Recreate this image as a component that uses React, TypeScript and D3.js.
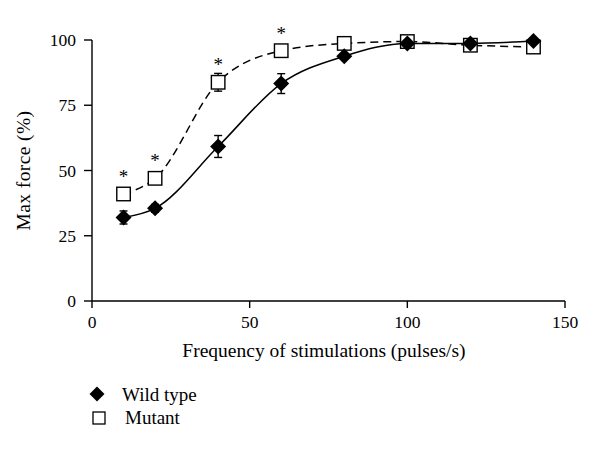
import React from "react";
import * as d3 from "d3";

const freqs = [10, 20, 40, 60, 80, 100, 120, 140];
const wildType = [32, 35.5, 59.2, 83.3, 93.8, 98.7, 98.7, 99.6];
const wildErr = [2.5, 1.5, 4.2, 3.8, 0.8, 0.8, 0.8, 0.5];
const mutant = [41, 47, 83.8, 95.9, 98.7, 99.4, 98, 97.3];
const mutantErr = [1, 1.5, 3.4, 0.8, 0.5, 0.5, 0.5, 0.5];
const starFreqs = [10, 20, 40, 60];
const xTicks = [0, 50, 100, 150];
const yTicks = [0, 25, 50, 75, 100];

const FONT = "'Liberation Serif', 'Times New Roman', serif";

export default function App() {
  const x = d3.scaleLinear().domain([0, 150]).range([92, 565]);
  const y = d3.scaleLinear().domain([0, 100]).range([301, 40]);
  const line = d3
    .line<number>()
    .x((_, i) => x(freqs[i]))
    .y((d) => y(d))
    .curve(d3.curveMonotoneX);

  const diamond = (cx: number, cy: number, r: number) =>
    `M${cx},${cy - r}L${cx + r},${cy}L${cx},${cy + r}L${cx - r},${cy}Z`;

  const errBar = (f: number, v: number, e: number, key: string) => (
    <g key={key} stroke="#000" strokeWidth={1.4}>
      <line x1={x(f)} x2={x(f)} y1={y(v - e)} y2={y(v + e)} />
      <line x1={x(f) - 4} x2={x(f) + 4} y1={y(v - e)} y2={y(v - e)} />
      <line x1={x(f) - 4} x2={x(f) + 4} y1={y(v + e)} y2={y(v + e)} />
    </g>
  );

  return (
    <svg width={600} height={452} style={{ position: "absolute", left: 0, top: 0, background: "#fff" }}>
      <rect width={600} height={452} fill="#fff" />
      {/* axes */}
      <line x1={x(0)} x2={x(150)} y1={y(0)} y2={y(0)} stroke="#000" strokeWidth={1.4} />
      <line x1={x(0)} x2={x(0)} y1={y(0)} y2={y(100)} stroke="#000" strokeWidth={1.4} />
      {xTicks.map((t) => (
        <g key={"xt" + t}>
          <line x1={x(t)} x2={x(t)} y1={y(0)} y2={y(0) + 7} stroke="#000" strokeWidth={1.4} />
          <text x={x(t)} y={328} textAnchor="middle" fontFamily={FONT} fontSize={17.5}>
            {t}
          </text>
        </g>
      ))}
      {yTicks.map((t) => (
        <g key={"yt" + t}>
          <line x1={x(0) - 8} x2={x(0)} y1={y(t)} y2={y(t)} stroke="#000" strokeWidth={1.4} />
          <text x={76} y={y(t) + 6} textAnchor="end" fontFamily={FONT} fontSize={17.5}>
            {t}
          </text>
        </g>
      ))}
      <text x={324} y={357} textAnchor="middle" fontFamily={FONT} fontSize={19.5}>
        Frequency of stimulations (pulses/s)
      </text>
      <text
        transform={`translate(30,${y(50)}) rotate(-90)`}
        textAnchor="middle"
        fontFamily={FONT}
        fontSize={19.5}
        letterSpacing={0.4}
      >
        Max force (%)
      </text>

      {/* lines */}
      <path d={line(mutant) || ""} fill="none" stroke="#000" strokeWidth={1.5} strokeDasharray="8,5" />
      <path d={line(wildType) || ""} fill="none" stroke="#000" strokeWidth={1.5} />

      {/* error bars */}
      {freqs.map((f, i) => errBar(f, wildType[i], wildErr[i], "ew" + f))}
      {freqs.map((f, i) => errBar(f, mutant[i], mutantErr[i], "em" + f))}

      {/* mutant squares */}
      {freqs.map((f, i) => (
        <rect
          key={"m" + f}
          x={x(f) - 6.75}
          y={y(mutant[i]) - 6.75}
          width={13.5}
          height={13.5}
          fill="#fff"
          stroke="#000"
          strokeWidth={1.4}
        />
      ))}
      {/* wild diamonds */}
      {freqs.map((f, i) => (
        <path key={"w" + f} d={diamond(x(f), y(wildType[i]), 8)} fill="#000" />
      ))}

      {/* significance stars */}
      {starFreqs.map((f) => {
        const i = freqs.indexOf(f);
        return (
          <text
            key={"s" + f}
            x={x(f)}
            y={y(mutant[i]) - 20 + 9}
            textAnchor="middle"
            fontFamily={FONT}
            fontSize={19}
            fill="#000"
          >
            *
          </text>
        );
      })}

      {/* legend */}
      <path d={diamond(97, 394, 7.5)} fill="#000" />
      <text x={122} y={401} fontFamily={FONT} fontSize={19}>
        Wild type
      </text>
      <rect x={93} y={412} width={12} height={12} fill="#fff" stroke="#000" strokeWidth={1.3} />
      <text x={125} y={424} fontFamily={FONT} fontSize={19}>
        Mutant
      </text>
    </svg>
  );
}
